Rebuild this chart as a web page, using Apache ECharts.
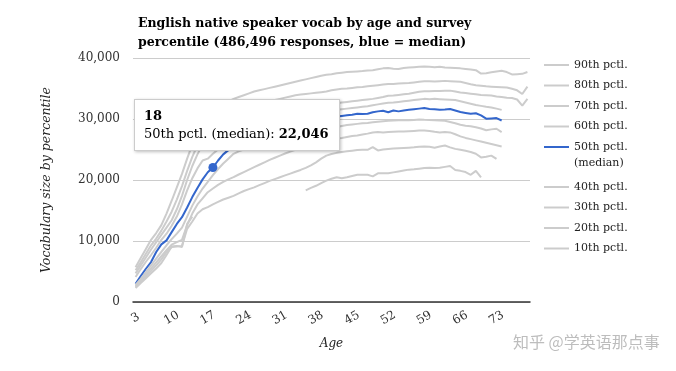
<!DOCTYPE html>
<html><head><meta charset="utf-8">
<script src="https://cdn.jsdelivr.net/npm/echarts@6/dist/echarts.min.js"></script>
<style>html,body{margin:0;padding:0;background:#fff;}#c{width:676px;height:371px;}</style>
</head><body><div id="c"></div>
<script>
const ages = ['3','4','5','6','7','8','9','10','11','12','13','14','15','16','17','18','19','20','21','22','23','24','25','26','27','28','29','30','31','32','33','34','35','36','37','38','39','40','41','42','43','44','45','46','47','48','49','50','51','52','53','54','55','56','57','58','59','60','61','62','63','64','65','66','67','68','69','70','71','72','73','74','75','76','77','78','79'];
const seriesNames = ['90th pctl.','80th pctl.','70th pctl.','60th pctl.','50th pctl. (median)','40th pctl.','30th pctl.','20th pctl.','10th pctl.'];
const yTicks = [0, 10000, 20000, 30000, 40000];
const highlightAge = '18';

const p90 = [5700,7200,8700,10200,11300,12600,14500,16600,18800,21000,
  23500,25800,27500,29000,30200,31000,31800,32400,32900,33300,
  33600,33900,34200,34500,34700,34900,35100,35300,35500,35700,
  35900,36100,36300,36500,36700,36900,37100,37250,37350,37500,
  37600,37700,37750,37800,37850,37950,38000,38150,38300,38350,
  38250,38200,38350,38450,38500,38550,38600,38550,38500,38550,
  38450,38400,38350,38300,38200,38100,38000,37450,37500,37650,
  37800,37900,37700,37300,37350,37400,37700];
const p80 = [5200,6500,7900,9300,10400,11700,13200,14800,16800,19000,
  21500,23800,25700,27300,28000,28800,29500,30000,30500,30900,
  31300,31600,31900,32200,32500,32700,32900,33100,33300,33500,
  33700,33900,34000,34100,34200,34300,34400,34500,34700,34850,
  34950,35000,35100,35200,35250,35350,35450,35550,35650,35750,
  35750,35800,35850,35900,36000,36100,36200,36200,36150,36200,
  36250,36200,36150,36100,35900,35700,35550,35450,35350,35300,
  35250,35200,35150,34950,34700,34100,35300];
const p70 = [4700,6000,7300,8600,9800,11000,12200,13400,15200,17400,
  20000,22300,24200,25800,26000,26800,27400,27900,28300,28700,
  29000,29300,29600,29900,30200,30400,30600,30800,31000,31200,
  31400,31600,31800,31950,32100,32200,32300,32400,32500,32600,
  32700,32800,32900,33000,33100,33200,33300,33450,33600,33800,
  33850,33950,34050,34150,34300,34450,34550,34550,34600,34600,
  34650,34650,34500,34350,34250,34150,34050,33950,33900,33850,
  33700,33600,33500,33450,33200,32200,33300];
const p60 = [4100,5400,6600,7700,8900,10200,11200,12500,14000,16000,
  18300,20300,21900,23200,23500,24300,25000,25600,26100,26600,
  27000,27400,27700,28000,28300,28600,28900,29200,29450,29700,
  29950,30200,30400,30600,30800,31000,31150,31300,31400,31500,
  31600,31700,31800,31900,32000,32100,32250,32400,32550,32650,
  32700,32800,32900,33000,33100,33200,33300,33250,33300,33250,
  33200,33150,33100,32900,32700,32500,32300,32150,32000,31900,
  31700,31500,null,null,null,null,null];
const p50 = [3000,4250,5450,6550,8200,9450,10100,11450,12800,13900,
  15500,17200,18700,20100,21270,22046,23200,24200,24900,25500,
  26000,26400,26800,27100,27400,27700,27950,28200,28450,28700,
  28900,29100,29300,29500,29650,29800,29950,30100,30290,30400,
  30500,30600,30700,30850,30800,30850,31100,31250,31350,31100,
  31400,31250,31400,31500,31600,31700,31800,31650,31600,31500,
  31550,31650,31400,31150,31000,30850,30950,30600,30050,30100,
  30150,29750,null,null,null,null,null];
const p40 = [2800,3800,4900,6000,7100,8200,9300,10300,11200,12200,
  14000,15800,17300,18600,19700,20800,21800,22700,23500,24290,
  24700,25000,25300,25600,25900,26200,26450,26700,26900,27100,
  27300,27500,27700,27850,28000,28150,28300,28450,28550,28700,
  28850,29000,29100,29200,29300,29350,29450,29550,29650,29700,
  29750,29800,29850,29800,29850,29900,29860,29850,29800,29750,
  29700,29500,29300,29050,28900,28800,28650,28450,28150,28300,
  28400,27850,null,null,null,null,null];
const p30 = [2600,3500,4500,5500,6500,7500,8500,9400,9800,10200,
  12600,14500,16000,17000,18000,18600,19200,19700,20100,20460,
  20900,21300,21700,22100,22500,22900,23300,23650,24000,24350,
  24650,24950,25250,25500,25750,26000,26300,26550,26700,26800,
  26900,27050,27200,27300,27450,27600,27800,27850,27800,27850,
  27900,27950,27950,28000,28050,28100,28110,28050,27900,27800,
  27850,27800,27500,27150,26900,26700,26500,26300,26100,25900,
  25700,25500,null,null,null,null,null];
const p20 = [2450,3300,4200,5100,6000,7000,8200,9000,9100,9200,
  12000,13200,14500,15200,15550,16000,16400,16800,17100,17400,
  17800,18200,18500,18800,19150,19500,19850,20150,20450,20750,
  21050,21350,21650,22000,22400,22900,23500,24000,24250,24450,
  24600,24700,24800,24900,24950,24950,25400,24850,25000,25100,
  25150,25200,25250,25300,25350,25450,25500,25450,25300,25500,
  25650,25350,25100,24950,24800,24600,24300,23700,23800,24000,
  23450,null,null,null,null,null,null];
const p10 = [2300,3100,3900,4700,5500,6400,7700,9100,9200,9000,
  12800,14000,null,null,null,null,null,null,null,null,
  null,null,null,null,null,null,null,null,null,null,
  null,null,null,18300,18700,19050,19500,19900,20200,20450,
  20300,20450,20650,20850,20850,20850,20600,21100,21100,21100,
  21250,21400,21550,21700,21750,21850,21950,22000,21950,22000,
  22150,22300,21650,21500,21300,20850,21500,20450,null,null,
  null,null,null,null,null,null,null];

const FONT = "'DejaVu Serif', Georgia, serif";
const GREY = '#cccccc';
const BLUE = '#3366cc';
const valuesList = [p90, p80, p70, p60, p50, p40, p30, p20, p10];
const MEDIAN = 4;
const hiIndex = ages.indexOf(highlightAge);
const fmt = v => String(v).replace(/\B(?=(\d{3})+(?!\d))/g, ',');

const series = valuesList.map((vals, k) => {
  const isMed = k === MEDIAN;
  return {
    name: seriesNames[k],
    type: 'line',
    data: isMed ? vals.map((v, i) => i === hiIndex ? {value: v, symbol: 'circle', symbolSize: 9} : v) : vals,
    symbol: 'none',
    showSymbol: isMed,
    showAllSymbol: true,
    connectNulls: false,
    silent: !isMed,
    lineStyle: {color: isMed ? BLUE : GREY, width: 2},
    itemStyle: {color: isMed ? BLUE : GREY},
    emphasis: {disabled: true},
    animation: false
  };
});

const legendText = {fontFamily: FONT, fontSize: 11, color: '#222', lineHeight: 18};
const chart = echarts.init(document.getElementById('c'));
chart.setOption({
  animation: false,
  backgroundColor: '#fff',
  textStyle: {fontFamily: FONT},
  title: {
    text: 'English native speaker vocab by age and survey\npercentile (486,496 responses, blue = median)',
    left: 133, top: 9,
    textStyle: {fontFamily: FONT, fontSize: 12.5, fontWeight: 'bold', color: '#000', lineHeight: 19}
  },
  grid: {left: 133, right: 146, top: 58, bottom: 69, containLabel: false},
  xAxis: {
    type: 'category', data: ages, boundaryGap: true,
    name: 'Age', nameLocation: 'middle', nameGap: 36,
    nameTextStyle: {fontFamily: FONT, fontStyle: 'italic', fontSize: 12, color: '#222'},
    axisLine: {show: true, lineStyle: {color: '#333', width: 1.5}},
    axisTick: {show: false},
    axisLabel: {interval: 6, rotate: 30, margin: 16, align: 'center', verticalAlign: 'middle', fontSize: 12, color: '#333', fontFamily: FONT},
    splitLine: {show: false}
  },
  yAxis: {
    type: 'value', min: yTicks[0], max: yTicks[yTicks.length - 1], interval: yTicks[1] - yTicks[0],
    name: 'Vocabulary size by percentile', nameLocation: 'middle', nameGap: 80,
    nameTextStyle: {fontFamily: FONT, fontStyle: 'italic', fontSize: 12.5, color: '#222'},
    axisLine: {show: false}, axisTick: {show: false},
    axisLabel: {margin: 13, fontSize: 12, color: '#333', fontFamily: FONT, formatter: v => fmt(v)},
    splitLine: {lineStyle: {color: '#cccccc', width: 1}}
  },
  legend: [
    {
      orient: 'vertical', left: 544, top: 56, padding: 0, itemWidth: 25, itemHeight: 2, itemGap: 2.5, icon: 'rect',
      selectedMode: false, textStyle: legendText,
      data: seriesNames.slice(0, 5),
      formatter: n => n === seriesNames[MEDIAN] ? '50th pctl.' : n
    },
    {
      orient: 'vertical', left: 544, top: 178, padding: 0, itemWidth: 25, itemHeight: 2, itemGap: 2.5, icon: 'rect',
      selectedMode: false, textStyle: legendText,
      data: seriesNames.slice(5)
    }
  ],
  tooltip: {
    trigger: 'item', triggerOn: 'none', alwaysShowContent: true, transitionDuration: 0,
    backgroundColor: '#fff', borderColor: '#cccccc', borderWidth: 1, borderRadius: 0, padding: [7, 10, 7, 9],
    textStyle: {fontFamily: FONT, fontSize: 13, color: '#000'},
    extraCssText: 'box-shadow:1px 1px 3px rgba(0,0,0,0.25);line-height:18px;',
    position: pt => [pt[0] - 79, pt[1] - 69],
    formatter: p => '<b>' + p.name + '</b><br/>' + p.seriesName + ': <b>' + fmt(p.value) + '</b>'
  },
  graphic: [
    {
      type: 'text', left: 574, top: 158, silent: true,
      style: {text: '(median)', font: "11px 'DejaVu Serif'", fill: '#222'}
    },
    {
      type: 'text', left: 513, top: 334, silent: true,
      style: {text: '知乎 @学英语那点事', font: "16px 'Noto Sans CJK SC'", fill: '#bdbdbd'}
    }
  ],
  series: series
});
function showTip() {
  chart.dispatchAction({type: 'showTip', seriesIndex: MEDIAN, dataIndex: hiIndex});
}
showTip();
setTimeout(showTip, 30);
</script></body></html>
